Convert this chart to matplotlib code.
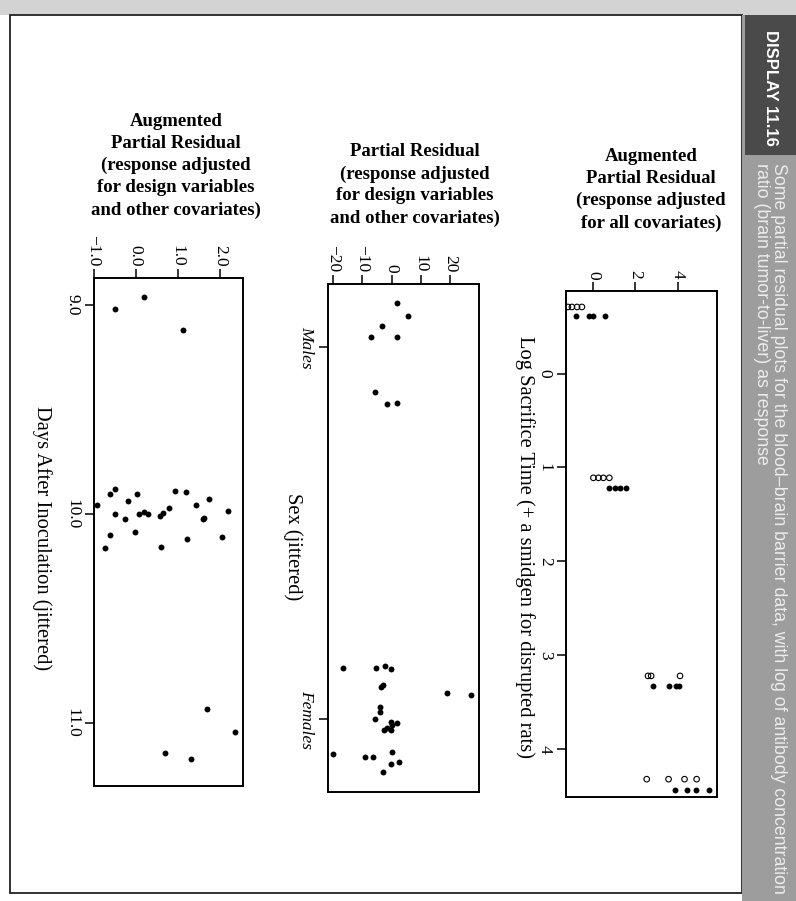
import matplotlib.pyplot as plt
from matplotlib.patches import Rectangle

# Display 11.16 - partial residual plots, page scanned sideways

W, H = 796, 901

# panel 1: augmented partial residual vs log sacrifice time
p1_open_time = [-0.71, -0.71, -0.71, -0.71, 1.11, 1.11, 1.11, 1.11,
                3.22, 3.22, 3.22, 4.32, 4.32, 4.32, 4.32]
p1_open_resid = [-1.18, -0.99, -0.75, -0.52, 0.02, 0.26, 0.49, 0.77,
                 2.59, 2.74, 4.10, 2.53, 3.56, 4.31, 4.88]
p1_fill_time = [-0.61, -0.61, -0.61, -0.61, 1.22, 1.22, 1.22, 1.22,
                3.33, 3.33, 3.33, 3.33, 4.44, 4.44, 4.44, 4.44]
p1_fill_resid = [-0.78, -0.18, 0.02, 0.58, 0.77, 1.06, 1.29, 1.57,
                 2.83, 3.58, 3.91, 4.05, 3.84, 4.41, 4.83, 5.44]
p1_time_ticks = [0, 1, 2, 3, 4]
p1_resid_ticks = [0, 2, 4]

# panel 2: partial residual vs sex (jittered)
p2_sex = [-0.118, -0.083, -0.056, -0.027, -0.027, 0.121, 0.153, 0.150,
          0.863, 0.863, 0.858, 0.866, 0.909, 0.914, 0.930, 0.936,
          0.968, 0.981, 1.000, 1.008, 1.011, 1.024, 1.030, 1.030,
          1.016, 1.094, 1.102, 1.102, 1.089, 1.121, 1.116, 1.142]
p2_resid = [2.0, 5.5, -3.4, -7.2, 2.0, -5.5, -1.7, 1.7,
            -16.7, -5.4, -2.3, -0.2, -3.0, -3.5, 18.9, 27.1,
            -4.1, -3.8, -5.5, -0.3, 2.0, -1.7, -0.3, -2.7,
            0.3, -20.1, -9.2, -6.5, 0.0, -0.3, 2.4, -3.1]
p2_sex_ticks = [0, 1]
p2_sex_labels = ["Males", "Females"]
p2_resid_ticks = [-20, -10, 0, 10, 20]

# panel 3: augmented partial residual vs days after inoculation
p3_days = [8.96, 9.02, 9.12, 9.954, 10.161, 10.097, 9.901, 9.877, 9.997,
           10.025, 9.936, 10.084, 9.904, 10.001, 9.989, 10.001, 10.008,
           10.156, 9.994, 9.970, 9.890, 9.893, 10.120, 9.957, 10.021,
           10.016, 9.928, 10.111, 9.986, 10.930, 11.04, 11.142, 11.171]
p3_resid = [0.20, -0.49, 1.11, -0.91, -0.73, -0.62, -0.62, -0.48, -0.49,
            -0.25, -0.19, -0.01, 0.03, 0.07, 0.19, 0.29, 0.57,
            0.61, 0.65, 0.79, 0.94, 1.19, 1.21, 1.42, 1.60,
            1.62, 1.73, 2.05, 2.18, 1.69, 2.36, 0.69, 1.31]
p3_days_ticks = [9.0, 10.0, 11.0]
p3_resid_ticks = [-1.0, 0.0, 1.0, 2.0]

plt.rcParams['font.family'] = ['Liberation Serif', 'DejaVu Serif']
plt.rcParams['font.size'] = 12

title_size = 13.5
title_spacing = 1.38
label_size = 14.8
sans = ['Liberation Sans', 'DejaVu Sans']

fig = plt.figure(figsize=(W / 100, H / 100), dpi=100)
fig.patch.set_facecolor("white")


def fx(x):
    return x / W


def fy(y):
    return 1 - y / H


def px_axes(left, top, right, bottom):
    return fig.add_axes([fx(left), fy(bottom), (right - left) / W, (bottom - top) / H])


def style(ax):
    ax.xaxis.tick_top()
    ax.tick_params(axis='both', direction='out', length=6.5, width=1.1,
                   labelsize=12.5, labelrotation=270)
    ax.tick_params(axis='x', pad=2)
    ax.tick_params(axis='y', pad=3)
    for s in ax.spines.values():
        s.set_linewidth(1.4)
    for lbl in ax.get_yticklabels():
        lbl.set_va('center')


def fig_text(x, y, s, **kw):
    fig.text(fx(x), fy(y), s, ha='center', va='center', **kw)


# page background bits
fig.patches.append(Rectangle((0, fy(15)), 1, 15 / H, transform=fig.transFigure,
                             facecolor="#d3d3d3", edgecolor="none", zorder=0))
fig.patches.append(Rectangle((fx(10), fy(893)), (742 - 10) / W, (893 - 15) / H,
                             transform=fig.transFigure, facecolor="none",
                             edgecolor="#222222", linewidth=1.3, zorder=1))
fig.patches.append(Rectangle((fx(742), 0), (W - 742) / W, fy(15), transform=fig.transFigure,
                             facecolor="#9d9d9d", edgecolor="none", zorder=1))
fig.patches.append(Rectangle((fx(745), fy(155)), (W - 745) / W, 140 / H, transform=fig.transFigure,
                             facecolor="#4a4a4a", edgecolor="none", zorder=2))
fig.text(fx(771), fy(88), "DISPLAY 11.16", rotation=270, ha='center', va='center',
         color="white", fontsize=12, fontweight='bold', family=sans)
fig.text(fx(770), fy(163), "Some partial residual plots for the blood\u2013brain barrier data, "
         "with log of antibody concentration\nratio (brain tumor-to-liver) as response",
         rotation=270, ha='center', va='top', color="#ececec", fontsize=12.8,
         linespacing=1.0, multialignment='left', family=sans)

# panel 1
ax1 = px_axes(566, 291, 717, 797)
ax1.scatter(p1_open_resid, p1_open_time, s=16, facecolors='none', edgecolors='black', linewidths=0.8)
ax1.scatter(p1_fill_resid, p1_fill_time, s=18, color='black', linewidths=0)
ax1.set_xlim(-1.27, 5.84)
ax1.set_ylim(4.51, -0.88)
ax1.set_xticks(p1_resid_ticks)
ax1.set_yticks(p1_time_ticks)
style(ax1)
fig_text(651, 190, "Augmented\nPartial Residual\n(response adjusted\nfor all covariates)",
         fontweight='bold', fontsize=title_size, linespacing=title_spacing)
fig_text(525, 547, "Log Sacrifice Time (+ a smidgen for disrupted rats)",
         rotation=270, fontsize=label_size)

# panel 2
ax2 = px_axes(327.5, 284, 478.5, 792)
ax2.scatter(p2_resid, p2_sex, s=18, color='black', linewidths=0)
ax2.set_xlim(-21.9, 29.7)
ax2.set_ylim(1.196, -0.169)
ax2.set_xticks(p2_resid_ticks)
ax2.set_yticks(p2_sex_ticks)
ax2.set_yticklabels(p2_sex_labels, style='italic')
style(ax2)
fig_text(415, 185, "Partial Residual\n(response adjusted\nfor design variables\nand other covariates)",
         fontweight='bold', fontsize=title_size, linespacing=title_spacing)
fig_text(293, 547, "Sex (jittered)", rotation=270, fontsize=label_size)

# panel 3
ax3 = px_axes(93.5, 278, 242.5, 786)
ax3.scatter(p3_resid, p3_days, s=18, color='black', linewidths=0)
ax3.set_xlim(-1.0, 2.53)
ax3.set_ylim(11.30, 8.87)
ax3.set_xticks(p3_resid_ticks)
ax3.set_xticklabels(["\u22121.0", "0.0", "1.0", "2.0"])
ax3.set_yticks(p3_days_ticks)
ax3.set_yticklabels(["9.0", "10.0", "11.0"])
style(ax3)
fig_text(176, 166, "Augmented\nPartial Residual\n(response adjusted\nfor design variables\nand other covariates)",
         fontweight='bold', fontsize=title_size, linespacing=title_spacing)
fig_text(42, 538, "Days After Inoculation (jittered)", rotation=270, fontsize=label_size)

fig.savefig("out.png", dpi=100)
